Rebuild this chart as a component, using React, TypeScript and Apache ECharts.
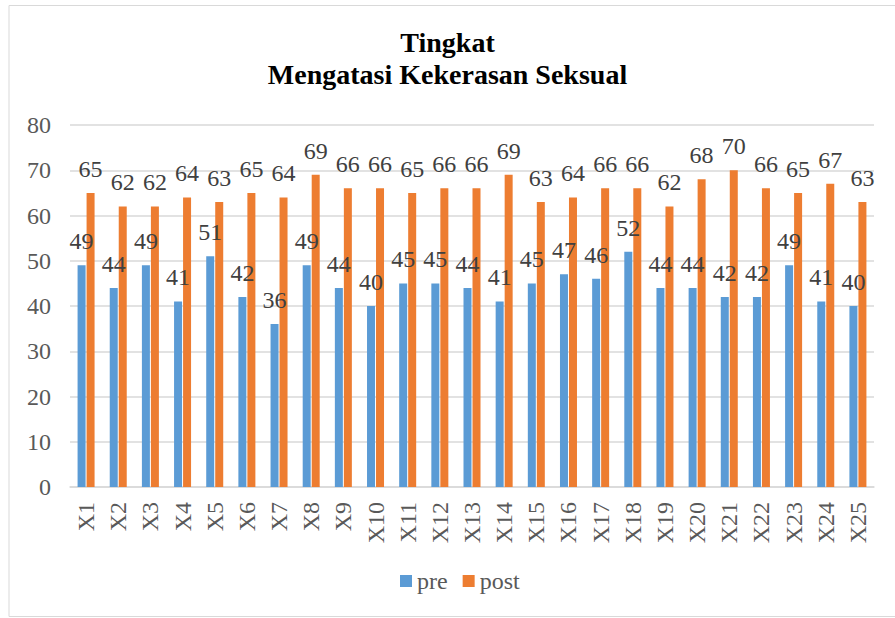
import React, { useEffect, useRef } from "react";
import * as echarts from "echarts";

const categories = ["X1","X2","X3","X4","X5","X6","X7","X8","X9","X10","X11","X12","X13","X14","X15","X16","X17","X18","X19","X20","X21","X22","X23","X24","X25"];
const preValues = [49,44,49,41,51,42,36,49,44,40,45,45,44,41,45,47,46,52,44,44,42,42,49,41,40];
const postValues = [65,62,62,64,63,65,64,69,66,66,65,66,66,69,63,64,66,66,62,68,70,66,65,67,63];
const seriesNames = ["pre", "post"];
const titleText = "Tingkat\nMengatasi Kekerasan Seksual";

const FONT = "Liberation Serif";

export default function App() {
  const ref = useRef<HTMLDivElement>(null);
  useEffect(() => {
    if (!ref.current) return;
    const chart = echarts.init(ref.current, undefined, { renderer: "svg" });
    const labelCommon = {
      show: true,
      position: "top" as const,
      distance: 12,
      fontFamily: FONT,
      fontSize: 24,
      color: "#404040",
    };
    chart.setOption({
      animation: false,
      backgroundColor: "#ffffff",
      textStyle: { fontFamily: FONT },
      title: {
        text: titleText,
        left: "center",
        top: 21,
        padding: [5, 5, 5, 20],
        textStyle: {
          fontFamily: FONT,
          fontSize: 28,
          fontWeight: "bold",
          color: "#000000",
          lineHeight: 32,
        },
      },
      graphic: [
        {
          type: "rect",
          shape: { x: 9, y: 5.5, width: 900, height: 611 },
          style: { fill: "none", stroke: "#d9d9d9", lineWidth: 1 },
          silent: true,
          z: -1,
        },
      ],
      legend: {
        data: seriesNames,
        left: 395,
        top: 564,
        itemWidth: 12,
        itemHeight: 12,
        itemGap: 15,
        icon: "rect",
        textStyle: { fontFamily: FONT, fontSize: 24, color: "#595959" },
      },
      grid: { left: 70, right: 21, top: 125, bottom: 131, containLabel: false },
      xAxis: {
        type: "category",
        data: categories,
        axisTick: { show: false },
        axisLine: { lineStyle: { color: "#d9d9d9", width: 1.5 } },
        axisLabel: {
          rotate: 90,
          margin: 15,
          interval: 0,
          fontFamily: FONT,
          fontSize: 24,
          color: "#595959",
        },
      },
      yAxis: {
        type: "value",
        min: 0,
        max: 80,
        interval: 10,
        axisLine: { show: false },
        axisTick: { show: false },
        splitLine: { lineStyle: { color: "#d9d9d9", width: 1.5 } },
        axisLabel: { margin: 19, fontFamily: FONT, fontSize: 24, color: "#595959" },
      },
      series: [
        {
          name: seriesNames[0],
          type: "bar",
          data: preValues,
          barWidth: 8,
          barGap: "12.5%",
          itemStyle: { color: "#5B9BD5" },
          label: labelCommon,
        },
        {
          name: seriesNames[1],
          type: "bar",
          data: postValues,
          barWidth: 8,
          barGap: "12.5%",
          itemStyle: { color: "#ED7D31" },
          label: labelCommon,
        },
      ],
    });
    return () => chart.dispose();
  }, []);
  return (
    <div
      ref={ref}
      style={{ position: "fixed", left: 0, top: 0, width: 895, height: 618 }}
    />
  );
}
